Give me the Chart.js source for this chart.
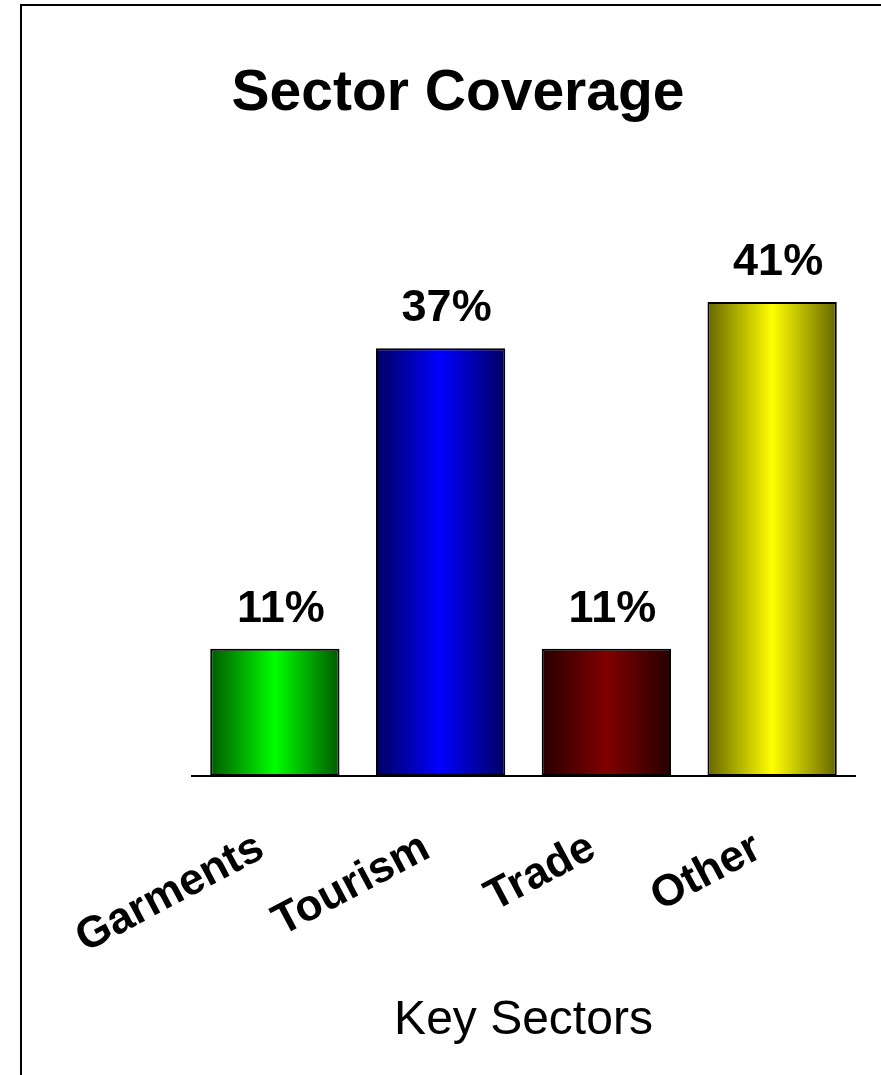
<!DOCTYPE html>
<html>
<head>
<meta charset="utf-8">
<script src="https://cdn.jsdelivr.net/npm/chart.js@4.4.1/dist/chart.umd.min.js"></script>
<style>
  html, body { margin: 0; padding: 0; background: #fff; overflow: hidden; }
  #wrap { position: relative; width: 881px; height: 1075px; }
  #frame { position: absolute; left: 20px; top: 4px; width: 900px; height: 1100px; border-left: 2px solid #000; border-top: 2px solid #000; }
  canvas { position: absolute; left: 0; top: 0; }
</style>
</head>
<body>
<div id="wrap">
  <div id="frame"></div>
  <canvas id="chart" width="881" height="1075"></canvas>
</div>
<script>
const sectors = ['Garments', 'Tourism', 'Trade', 'Other']
const coverage = [11, 37, 11, 41]
const valueLabels = ['11%', '37%', '11%', '41%']

// colours: dark edge -> bright middle, like the shaded bars of the original
const edgeColors = ['#005a00', '#000060', '#280000', '#666600']
const midColors = ['#00ff00', '#0000ff', '#800000', '#ffff00']

const FONT = '"Liberation Sans", Arial, sans-serif'
const BAR_PCT = 0.78

Chart.defaults.font.family = FONT
Chart.defaults.color = '#000000'

function barGradient(context) {
  const chart = context.chart
  const area = chart.chartArea
  const i = context.dataIndex
  if (!area) return midColors[i]
  const center = chart.scales.x.getPixelForValue(i)
  const half = (area.right - area.left) / sectors.length * BAR_PCT / 2
  const g = chart.ctx.createLinearGradient(center - half, 0, center + half, 0)
  g.addColorStop(0, edgeColors[i])
  g.addColorStop(0.5, midColors[i])
  g.addColorStop(1, edgeColors[i])
  return g
}

const annotations = { // title + values above the bars
  id: 'annotations',
  afterDatasetsDraw(chart) {
    const ctx = chart.ctx
    ctx.save()
    ctx.fillStyle = '#000'
    ctx.textAlign = 'center'
    ctx.textBaseline = 'alphabetic'
    ctx.font = 'bold 45px ' + FONT
    chart.getDatasetMeta(0).data.forEach((bar, i) => {
      ctx.fillText(valueLabels[i], bar.x + 6, bar.y - 27)
    })
    ctx.font = 'bold 57px ' + FONT
    ctx.fillText('Sector Coverage', 458, 110)
    ctx.restore()
  }
}

const config = {
  type: 'bar',
  data: {
    labels: sectors,
    datasets: [{
      data: coverage,
      backgroundColor: barGradient,
      borderColor: '#000000',
      borderWidth: 2,
      borderSkipped: false,
      barPercentage: BAR_PCT,
      categoryPercentage: 1
    }]
  },
  options: {
    responsive: false,
    animation: false,
    layout: {
      padding: { left: 192, right: 26, top: 198, bottom: 0 }
    },
    plugins: {
      legend: { display: false },
      title: { display: false },
      tooltip: { enabled: false }
    },
    scales: {
      y: {
        display: false,
        min: 0,
        max: 50
      },
      x: {
        grid: { display: false, drawTicks: false },
        border: { display: true, color: '#000000', width: 2 },
        ticks: {
          font: { size: 44, weight: 'bold' },
          minRotation: 28,
          maxRotation: 28,
          padding: 46,
          labelOffset: -14,
          autoSkip: false
        },
        title: {
          display: true,
          text: 'Key Sectors',
          font: { size: 48 },
          padding: { top: 0, bottom: 25 }
        },
        afterFit(scale) {
          scale.height = 299
        }
      }
    }
  },
  plugins: [annotations]
}

try {
  new Chart(document.getElementById('chart'), config)
} catch (error) {
  console.log(`Chart error: ${error}`)
}
</script>
</body>
</html>
